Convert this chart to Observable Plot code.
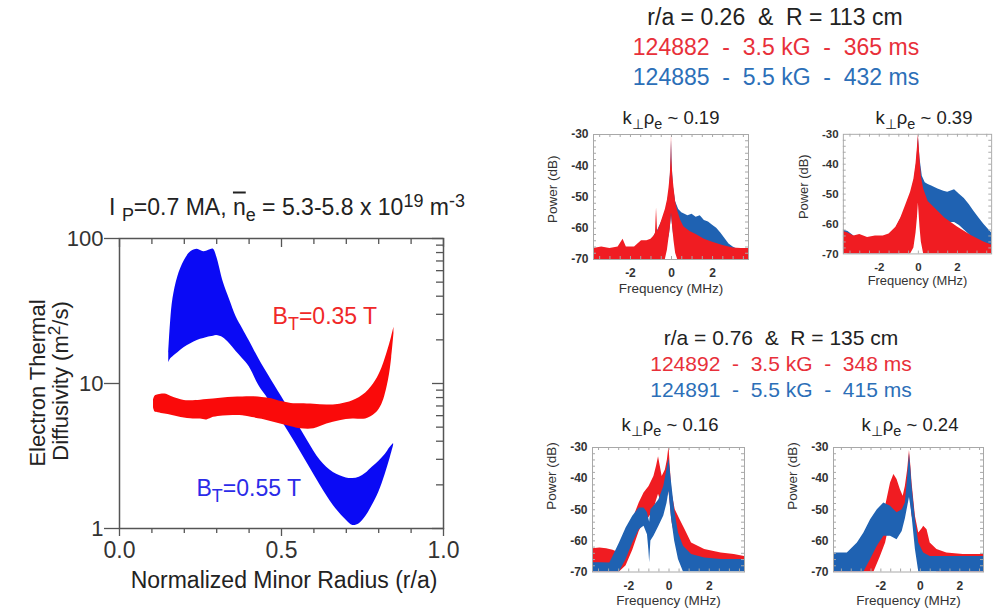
<!DOCTYPE html>
<html>
<head>
<meta charset="utf-8">
<script src="https://cdn.jsdelivr.net/npm/d3@7"></script>
<script src="https://cdn.jsdelivr.net/npm/@observablehq/plot@0.6"></script>
<style>
  body { margin: 0; background: #fff; }
  #fig { position: relative; width: 995px; height: 615px; overflow: hidden; background: #fff;
         font-family: "Liberation Sans", Arial, Helvetica, sans-serif; color: #222; }
  .abs { position: absolute; white-space: pre; line-height: 1; }
  .sb { font-size: 0.78em; position: relative; top: 0.35em; }
  .sp { font-size: 0.78em; position: relative; top: -0.45em; }
  .ov { text-decoration: overline; }
</style>
</head>
<body>
<div id="fig"></div>
<script>
// ---- Electron thermal diffusivity (m^2/s) vs normalized minor radius ----
// B_T = 0.55 T band
const blueR  = [0.152,0.158,0.165,0.18,0.2,0.22,0.24,0.26,0.28,0.29,0.30,0.32,0.34,0.36,0.38,0.40,0.43,0.46,0.50,0.54,0.58,0.62,0.66,0.70,0.72,0.74,0.76,0.78,0.80,0.82,0.835,0.846];
const blueHi = [16.3,27.1,38.4,54.5,70.2,81.0,84.3,81.0,83.6,84.3,74.8,50.3,37.8,28.9,23.9,19.8,14.8,11.4,8.12,5.73,4.04,2.94,2.43,2.23,2.21,2.26,2.40,2.64,2.90,3.24,3.62,3.86];
const blueLo = [13.9,14.8,15.3,16.3,17.7,18.8,19.8,20.4,21.0,21.2,21.4,20.7,18.8,16.6,14.8,13.1,9.67,7.74,5.55,3.98,2.81,1.98,1.44,1.14,1.05,1.08,1.21,1.44,1.77,2.36,3.04,3.74];
// B_T = 0.35 T band
const redR  = [0.105,0.11,0.12,0.14,0.16,0.18,0.20,0.22,0.25,0.27,0.29,0.32,0.35,0.38,0.41,0.44,0.47,0.50,0.53,0.56,0.60,0.64,0.68,0.72,0.76,0.79,0.81,0.83,0.84,0.847];
const redHi = [7.7,8.2,8.35,8.45,8.15,7.85,7.63,7.6,7.67,7.75,7.83,7.93,8.03,8.07,8.1,8.0,7.86,7.5,7.28,7.24,7.2,7.1,7.2,7.6,8.6,10.4,12.8,17.5,21,24.4];
const redLo = [6.8,6.35,6.28,6.15,6.05,5.9,5.78,5.72,5.68,5.61,5.84,5.97,6.02,6.0,5.82,5.66,5.45,5.24,5.03,4.87,4.87,5.25,5.54,5.68,5.7,6.2,7.2,10.5,15,22];

const yMajor = [1, 10, 100];
const yMinor = [2,3,4,5,6,7,8,9,20,30,40,50,60,70,80,90];
const xMajor = [0, 0.5, 1];
const xMinor = [0.1,0.2,0.3,0.4,0.6,0.7,0.8,0.9];

// ---- Fluctuation power spectra (dB) vs frequency (MHz): upper / lower envelopes ----
// r/a = 0.26, k_perp rho_e ~ 0.19
const p1RedF  = [-3.8,-3.4,-3.0,-2.6,-2.36,-2.2,-1.8,-1.46,-1.2,-1.0,-0.85,-0.78,-0.73,-0.68,-0.55,-0.4,-0.3,-0.2,-0.12,-0.06,-0.02,0,0.02,0.06,0.12,0.2,0.3,0.45,0.6,0.9,1.2,1.6,2.0,2.5,3.0,3.4,3.75];
const p1RedHi = [-66.5,-66,-66.5,-66,-63.5,-66,-66,-64,-64,-63.5,-62.5,-61.5,-53.5,-61,-59,-56,-54,-51,-47,-43,-37,-30,-38,-43,-47,-51.5,-54.5,-57.5,-59.5,-61,-62,-63.5,-64.5,-65.5,-66.3,-66.5,-66.5];
const p1RedLo = [-70,-70,-70,-70,-70,-70,-70,-70,-70,-70,-70,-70,-70,-70,-70,-70,-70,-67,-63,-60,-57,-55,-57,-60,-64,-68,-70,-70,-70,-70,-70,-70,-70,-70,-70,-70,-70];
const p1BlueF  = [-3.8,-3.0,-2.0,-1.4,-1.0,-0.7,-0.45,-0.25,-0.1,-0.03,0,0.03,0.1,0.2,0.35,0.5,0.8,1.0,1.2,1.4,1.6,1.8,2.0,2.2,2.4,2.6,2.8,3.0,3.3,3.75];
const p1BlueHi = [-67.5,-67.5,-67,-66,-64,-61,-57.5,-54,-48,-40,-32,-40,-47,-51.5,-54,-55,-56,-55.5,-56.5,-56,-57.5,-58,-59,-60,-61.5,-63.3,-65,-66,-67,-68];
const p1BlueLo = [-70,-70,-70,-70,-70,-70,-70,-66,-62,-58,-56,-58,-62,-63,-63.5,-64,-64.5,-65,-65,-65.5,-65.5,-66,-66.5,-67,-67.5,-68,-69,-70,-70,-70];
// r/a = 0.26, k_perp rho_e ~ 0.39
const p2RedF  = [-3.84,-3.6,-3.3,-3.0,-2.6,-2.2,-1.8,-1.5,-1.15,-0.9,-0.65,-0.4,-0.23,-0.12,-0.05,0,0.04,0.08,0.15,0.27,0.5,0.85,1.35,2.0,2.7,3.35,3.75];
const p2RedHi = [-62.5,-63,-64,-63.5,-64.5,-64,-64,-63.3,-61.1,-58,-53.7,-49.4,-45,-39.8,-34.5,-30,-34,-38,-44,-48.3,-52.5,-54.7,-58,-61,-63.8,-66,-67];
const p2RedLo = [-70,-70,-70,-70,-70,-70,-70,-70,-70,-70,-70,-70,-68,-63,-58,-53,-57,-61,-66,-70,-70,-70,-70,-70,-70,-70,-70];
const p2BlueF  = [-3.84,-3.6,-3.2,-2.6,-2.0,-1.5,-1.2,-1.0,-0.8,-0.6,-0.4,-0.2,-0.08,0,0.08,0.2,0.35,0.5,0.68,1.0,1.3,1.5,1.85,2.1,2.35,2.6,2.85,3.1,3.35,3.75];
const p2BlueHi = [-62,-62.5,-64.5,-65.5,-65.5,-64.5,-62,-59.5,-57,-54,-50.5,-45,-39,-31,-38,-44,-46.2,-46.8,-47.3,-48.3,-49,-49.4,-48.5,-50,-51.5,-53.5,-55.8,-58,-60.1,-63];
const p2BlueLo = [-68,-70,-70,-70,-70,-70,-70,-70,-68,-65,-62,-58,-54,-52,-55,-57,-58,-58,-58,-58.5,-59,-59.5,-59.5,-60.5,-62,-63.5,-65.5,-67,-68.5,-70];
// r/a = 0.76, k_perp rho_e ~ 0.16
const p3RedF  = [-3.8,-3.43,-3.1,-2.78,-2.6,-2.46,-2.13,-1.8,-1.48,-1.24,-0.99,-0.75,-0.62,-0.52,-0.42,-0.34,-0.18,-0.08,0,0.06,0.15,0.31,0.55,0.8,1.12,1.77,2.59,3.24,3.75];
const p3RedHi = [-62.5,-62.3,-62.5,-63,-63.5,-61.7,-57.5,-53.2,-47.8,-44.6,-42.5,-39.3,-36,-33,-36.5,-39.3,-37.2,-34,-29.6,-36,-44.6,-50,-53.2,-56.4,-60.7,-62.8,-63.9,-64.4,-65];
const p3RedLo = [-70,-70,-70,-70,-70,-70,-68,-63,-57,-54,-52.5,-50,-47,-45,-47,-49,-48,-46,-44,-48,-54,-59,-62,-65,-67,-68,-68.5,-69,-69];
const p3BlueF  = [-3.8,-3.4,-2.94,-2.78,-2.46,-2.13,-1.8,-1.48,-1.24,-1.07,-1.0,-0.96,-0.9,-0.75,-0.5,-0.26,-0.1,0,0.11,0.28,0.47,0.72,1.12,1.77,2.59,3.75];
const p3BlueHi = [-67,-67,-67.1,-65,-60.7,-55.9,-52.1,-49.4,-49.4,-51,-53,-54,-50,-48.9,-46.8,-42.5,-37.1,-33.5,-40.3,-50,-57.5,-61.7,-64.4,-65.5,-66,-66];
const p3BlueLo = [-70,-70,-70,-70,-70,-66,-60.7,-56.4,-55.3,-58,-63,-67,-60,-58.5,-55.3,-52,-48,-44,-52,-60,-66,-70,-70,-70,-70,-70];
// r/a = 0.76, k_perp rho_e ~ 0.24
const p4RedF  = [-4.4,-3.87,-3.53,-3.19,-2.86,-2.69,-2.35,-2.02,-1.76,-1.51,-1.34,-1.18,-1.01,-0.87,-0.76,-0.64,-0.55,-0.48,-0.42,-0.25,-0.08,0.1,0.17,0.34,0.5,0.84,1.34,2.18,3.2];
const p4RedHi = [-64,-65,-66,-65.5,-64,-62.8,-59.6,-55.3,-48.9,-41.4,-38.7,-40.3,-43.6,-45.7,-42.5,-37.1,-31,-36,-41.4,-52.1,-57.5,-56,-55.3,-56.4,-60.7,-62.8,-63.9,-64.4,-64.4];
const p4RedLo = [-70,-70,-70,-70,-70,-70,-70,-65,-60.7,-53.2,-51,-52.1,-52,-51,-50,-47.8,-45,-48,-52,-57,-63.9,-65,-65,-66,-68,-70,-70,-70,-70];
const p4BlueF  = [-4.4,-3.7,-3.19,-2.86,-2.52,-2.18,-1.85,-1.51,-1.18,-0.92,-0.76,-0.64,-0.55,-0.48,-0.42,-0.25,-0.08,0.17,0.5,1.34,2.2,3.2];
const p4BlueHi = [-63.9,-63.9,-60.7,-57.5,-53.2,-50,-47.8,-48.9,-51,-50,-47.8,-39.3,-32,-37,-42.5,-53.2,-60.7,-63.9,-65,-65,-65,-65];
const p4BlueLo = [-70,-70,-70,-70,-66,-61.7,-58.5,-58.5,-59.6,-57,-53,-49,-46,-49,-52,-62.8,-70,-70,-70,-70,-70,-70];

const powerTicks = [-70,-60,-50,-40,-30];
const freqTicks = [-2,0,2];

// ---- colours ----
const BAND_BLUE = "#0a0af5", BAND_RED = "#fa0a0a";
const SPEC_BLUE = "#1f62b2", SPEC_RED = "#f01c22";
const TXT_BLUE = "#2c6fb8", TXT_RED = "#e8303a";
const FONT = '"Liberation Sans", Arial, Helvetica, sans-serif';

const fig = document.getElementById("fig");
const rows = (xs, lo, hi) => xs.map((x, i) => ({x, lo: lo[i], hi: hi[i]}));

function place(el, left, top) {
  const w = document.createElement("div");
  w.style.position = "absolute";
  w.style.left = left + "px";
  w.style.top = top + "px";
  w.appendChild(el);
  fig.appendChild(w);
}
function note(html, x, y, size, color, rotate) {
  const d = document.createElement("div");
  d.className = "abs";
  d.innerHTML = html;
  d.style.left = x + "px";
  d.style.top = y + "px";
  d.style.fontSize = size + "px";
  d.style.color = color || "#222";
  d.style.transform = "translate(-50%,-50%)" + (rotate ? ` rotate(${rotate}deg)` : "");
  fig.appendChild(d);
}

// ---------- left panel: diffusivity bands ----------
const W = 470, H = 420, ML = 119, MR = 27, MT = 48, MB = 82;
const PW = W - ML - MR, PH = H - MT - MB;
const AX = "#555";
const main = Plot.plot({
  width: W, height: H, marginLeft: ML, marginRight: MR, marginTop: MT, marginBottom: MB,
  style: {fontFamily: FONT, fontSize: "22px", color: "#333", background: "transparent", overflow: "visible"},
  x: {domain: [0, 1]},
  y: {type: "log", domain: [1, 100]},
  marks: [
    Plot.areaY(rows(blueR, blueLo, blueHi), {x: "x", y1: "lo", y2: "hi", fill: BAND_BLUE, curve: "catmull-rom"}),
    Plot.areaY(rows(redR, redLo, redHi), {x: "x", y1: "lo", y2: "hi", fill: BAND_RED, curve: "catmull-rom"}),
    // inner / outer tick marks around the frame
    Plot.ruleY(yMinor, {insetLeft: PW - 7, stroke: AX, strokeWidth: 1.3}),
    Plot.ruleY(yMajor, {insetLeft: PW - 11, stroke: AX, strokeWidth: 1.3}),
    Plot.ruleX(xMinor, {insetTop: PH, insetBottom: -5, stroke: AX, strokeWidth: 1.3}),
    Plot.ruleX(xMinor, {insetBottom: PH - 6, stroke: AX, strokeWidth: 1.3}),
    Plot.ruleX(xMajor, {insetBottom: PH - 9, stroke: AX, strokeWidth: 1.3}),
    Plot.axisY({ticks: yMajor, tickSize: 15, tickPadding: 1, tickFormat: d => String(d), fontSize: 22, label: null, stroke: AX, strokeWidth: 1.3}),
    Plot.axisX({ticks: xMajor, tickSize: 8, tickPadding: 5, tickFormat: d3.format(".1f"), fontSize: 23, label: null, stroke: AX, strokeWidth: 1.3}),
    Plot.frame({stroke: AX, strokeWidth: 1.5})
  ]
});
place(main, 0, 190);

// B_T labels with subscript, anchored in data coordinates
const sx = main.scale("x").apply, sy = main.scale("y").apply;
function btLabel(r, chi, value, color) {
  const t = d3.select(main).append("text")
    .attr("x", sx(r)).attr("y", sy(chi))
    .attr("text-anchor", "start")
    .attr("fill", color).attr("font-size", 23).attr("font-family", FONT)
    .attr("dominant-baseline", "middle");
  t.append("tspan").text("B");
  t.append("tspan").attr("dy", 7).attr("font-size", 18).text("T");
  t.append("tspan").attr("dy", -7).text(`=${value} T`);
}
btLabel(0.474, 28, "0.35", "#f02828");
btLabel(0.239, 1.83, "0.55", "#2b2be8");

note('I <span class="sb">P</span>=0.7 MA, <span class="ov">n</span><span class="sb">e</span> = 5.3-5.8 x 10<span class="sp">19</span> m<span class="sp">-3</span>', 287, 207, 23, "#222");
note("Electron Thermal", 38, 383, 22, "#222", -90);
note('Diffusivity (m<span class="sp">2</span>/s)', 61, 381, 22, "#222", -90);
note("Normalized Minor Radius (r/a)", 284, 580, 23, "#222");

// ---------- right panels: power spectra ----------
function spectrum({domain, w, h, red, blue, blueOnTop, labelDy}) {
  const redArea = Plot.areaY(red, {x: "x", y1: "lo", y2: "hi", fill: SPEC_RED, clip: true});
  const blueArea = Plot.areaY(blue, {x: "x", y1: "lo", y2: "hi", fill: SPEC_BLUE, clip: true});
  const fMinor = d3.range(Math.ceil(domain[0] * 2) / 2, domain[1], 0.5);
  const pMinor = d3.range(-68, -30, 2);
  const FR = "#a8a8a8";
  return Plot.plot({
    width: 50 + w + 4, height: 4 + h + 42,
    marginLeft: 50, marginRight: 4, marginTop: 4, marginBottom: 42,
    style: {fontFamily: FONT, fontSize: "12px", color: "#333", background: "transparent", overflow: "visible"},
    x: {domain},
    y: {domain: [-70, -30]},
    marks: [
      ...(blueOnTop ? [redArea, blueArea] : [blueArea, redArea]),
      Plot.ruleY(pMinor, {insetRight: w - 3, stroke: FR}),
      Plot.ruleY(pMinor, {insetLeft: w - 3, stroke: FR}),
      Plot.ruleX(fMinor, {insetBottom: h - 3, stroke: FR}),
      Plot.ruleX(fMinor, {insetTop: h - 3, stroke: FR}),
      Plot.axisY({ticks: powerTicks, tickSize: 0, tickPadding: 5, tickFormat: d => String(d), fontSize: 12, fontWeight: "bold", label: null}),
      Plot.axisX({ticks: freqTicks, tickSize: 0, tickPadding: 9, tickFormat: d => String(d), fontSize: 12, fontWeight: "bold", label: null}),
      Plot.text(["Frequency (MHz)"], {text: d => d, frameAnchor: "bottom", dy: 33, fontSize: 13.5, fill: "#333"}),
      Plot.text(["Power (dB)"], {text: d => d, frameAnchor: "left", dx: -41, dy: labelDy, rotate: -90, fontSize: 13.5, fill: "#333"}),
      Plot.frame({stroke: FR})
    ]
  });
}

place(spectrum({domain: [-3.8, 3.75], w: 155, h: 125,
  red: rows(p1RedF, p1RedLo, p1RedHi), blue: rows(p1BlueF, p1BlueLo, p1BlueHi), blueOnTop: false, labelDy: 26}), 543, 130);
place(spectrum({domain: [-3.84, 3.75], w: 155, h: 125,
  red: rows(p2RedF, p2RedLo, p2RedHi), blue: rows(p2BlueF, p2BlueLo, p2BlueHi), blueOnTop: false, labelDy: 26}), 795, 130);
place(spectrum({domain: [-3.8, 3.75], w: 152, h: 124.5,
  red: rows(p3RedF, p3RedLo, p3RedHi), blue: rows(p3BlueF, p3BlueLo, p3BlueHi), blueOnTop: true, labelDy: 0}), 542, 442.5);
place(spectrum({domain: [-4.4, 3.2], w: 150, h: 124.5,
  red: rows(p4RedF, p4RedLo, p4RedHi), blue: rows(p4BlueF, p4BlueLo, p4BlueHi), blueOnTop: true, labelDy: 0}), 783, 442.5);

// panel titles
const kTitle = v => `k<span class="sb">⊥</span>ρ<span class="sb">e</span> ~ ${v}`;
note(kTitle("0.19"), 671, 118, 18.5);
note(kTitle("0.39"), 924, 118, 18.5);
note(kTitle("0.16"), 670, 425, 18.5);
note(kTitle("0.24"), 910, 425, 18.5);

// shot headers
note("r/a = 0.26  &  R = 113 cm", 775, 17, 23, "#222");
note("124882  -  3.5 kG  -  365 ms", 776, 47, 23, TXT_RED);
note("124885  -  5.5 kG  -  432 ms", 776, 77, 23, TXT_BLUE);
note("r/a = 0.76  &  R = 135 cm", 781, 337, 21, "#222");
note("124892  -  3.5 kG  -  348 ms", 781, 363, 21, TXT_RED);
note("124891  -  5.5 kG  -  415 ms", 781, 389, 21, TXT_BLUE);
</script>
</body>
</html>
